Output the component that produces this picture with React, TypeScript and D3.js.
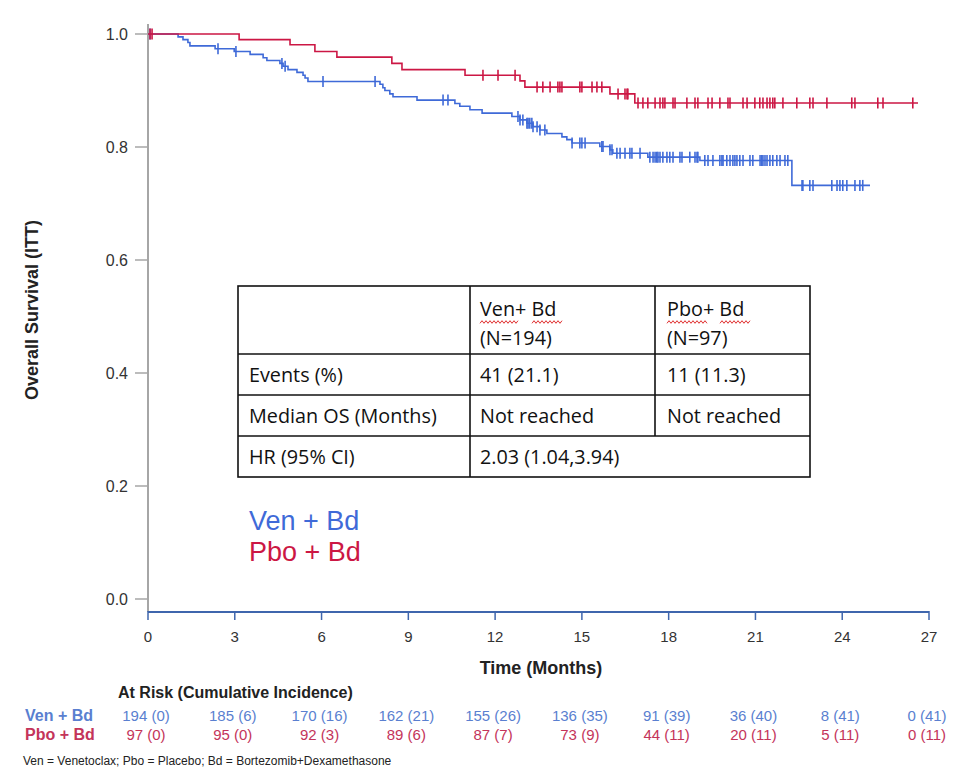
import React from "react";
import * as d3 from "d3";

// ---------- DATA ----------
const xTicks = [0, 3, 6, 9, 12, 15, 18, 21, 24, 27];
const yTicks = [0, 0.2, 0.4, 0.6, 0.8, 1.0];

// Ven + Bd: event times (months) and survival after each event
const venEventTimes = [1.04, 1.21, 1.38, 1.45, 2.32, 2.98, 3.53, 3.98, 4.11, 4.56, 4.67, 4.84, 5.15, 5.36, 5.43, 5.53,
  8.02, 8.12, 8.19, 8.36, 8.47, 9.3, 10.61, 10.78, 11.13, 11.55, 12.58, 12.86, 13.1, 13.31, 13.55, 13.79, 14.31, 14.48,
  14.66, 15.62, 15.97, 16.07, 17.28, 19.08, 22.26];
const venSurvival = [0.995, 0.99, 0.985, 0.979, 0.974, 0.969, 0.964, 0.958, 0.953, 0.948, 0.943, 0.937, 0.932, 0.927,
  0.922, 0.916, 0.911, 0.905, 0.9, 0.894, 0.889, 0.883, 0.877, 0.872, 0.866, 0.86, 0.854, 0.848, 0.842, 0.836, 0.83,
  0.824, 0.818, 0.813, 0.807, 0.801, 0.795, 0.789, 0.782, 0.776, 0.732];
const venCensor = [0.07, 2.42, 3.04, 4.63, 4.74, 6.05, 7.85, 10.2, 10.37, 12.79, 12.86, 12.96, 13.1, 13.14, 13.2, 13.27,
  13.31, 13.45, 13.55, 13.72, 14.66, 14.93, 15.0, 15.11, 15.69, 15.73, 15.97, 16.04, 16.21, 16.32, 16.49, 16.66, 16.73,
  17.01, 17.35, 17.46, 17.53, 17.59, 17.63, 17.7, 17.8, 17.94, 18.04, 18.15, 18.39, 18.46, 18.73, 18.91, 18.98, 19.01,
  19.25, 19.36, 19.53, 19.77, 19.84, 19.88, 20.01, 20.12, 20.22, 20.29, 20.36, 20.46, 20.57, 20.81, 20.91, 21.16, 21.22,
  21.26, 21.33, 21.4, 21.5, 21.6, 21.74, 21.85, 22.02, 22.12, 22.61, 22.64, 22.88, 22.99, 23.64, 23.82, 23.92, 24.02,
  24.16, 24.44, 24.61, 24.71];
const venEnd = 24.96;

// Pbo + Bd
const pboEventTimes = [3.15, 4.91, 5.77, 6.53, 8.43, 8.78, 10.96, 12.86, 13.03, 15.97, 16.83];
const pboSurvival = [0.99, 0.981, 0.969, 0.959, 0.948, 0.937, 0.927, 0.917, 0.906, 0.894, 0.878];
const pboCensor = [0.07, 0.14, 11.58, 12.1, 12.69, 13.45, 13.65, 13.9, 14.17, 14.24, 14.31, 14.93, 15.0, 15.35, 15.52,
  15.69, 16.25, 16.49, 16.56, 16.59, 16.94, 17.11, 17.28, 17.53, 17.7, 17.8, 17.87, 18.15, 18.22, 18.63, 18.91, 19.01,
  19.36, 19.5, 19.77, 20.05, 20.12, 20.57, 20.71, 20.98, 21.15, 21.26, 21.4, 21.5, 21.6, 21.67, 21.95, 22.43, 22.88,
  22.99, 23.47, 24.33, 24.44, 25.23, 25.41, 26.44];
const pboEnd = 26.62;

// At-risk table
const venAtRisk = [194, 185, 170, 162, 155, 136, 91, 36, 8, 0];
const venCumInc = [0, 6, 16, 21, 26, 35, 39, 40, 41, 41];
const pboAtRisk = [97, 95, 92, 89, 87, 73, 44, 20, 5, 0];
const pboCumInc = [0, 0, 3, 6, 7, 9, 11, 11, 11, 11];

// Inset table
const tableHeader = ["", "Ven+ Bd|(N=194)", "Pbo+ Bd|(N=97)"];
const tableRowLabels = ["Events (%)", "Median OS (Months)", "HR (95% CI)"];
const tableVen = ["41 (21.1)", "Not reached", "2.03 (1.04,3.94)"];
const tablePbo = ["11 (11.3)", "Not reached", ""];

// ---------- STYLE ----------
const BLUE = "#3f6ad8";
const RED = "#cc1744";
const BLUE_TXT = "#5a7fd0";
const RED_TXT = "#c4345a";

const x = d3.scaleLinear().domain([0, 27]).range([148, 929]);
const y = d3.scaleLinear().domain([0, 1]).range([599, 34]);
const AXIS_Y = 612;

function survAt(times: number[], surv: number[], t: number) {
  let s = 1;
  for (let i = 0; i < times.length; i++) if (times[i] <= t) s = surv[i];
  return s;
}

function stepPath(times: number[], surv: number[], end: number) {
  const pts: [number, number][] = [[0, 1]];
  times.forEach((t, i) => pts.push([t, surv[i]]));
  pts.push([end, surv[surv.length - 1]]);
  return d3.line<[number, number]>().x(d => x(d[0])).y(d => y(d[1])).curve(d3.curveStepAfter)(pts) || "";
}

function squiggle(x0: number, x1: number, yy: number) {
  const pts: [number, number][] = [];
  let up = false;
  for (let xx = x0; xx <= x1; xx += 2) {
    pts.push([xx, up ? yy - 1.3 : yy + 1.3]);
    up = !up;
  }
  return d3.line()(pts) || "";
}

export default function App() {
  const tl = 238, tr = 810, c1 = 470, c2 = 655;
  const rows = [286, 354, 395, 436, 477];
  const tFont = "'Open Sans', 'Noto Sans', sans-serif";
  const p1 = c1 + 10, p2 = c2 + 12;
  return (
    <svg width={975} height={784} style={{ position: "absolute", left: 0, top: 0, background: "#fff" }}
      fontFamily="'Liberation Sans', Arial, sans-serif">
      {/* y axis */}
      <line x1={148} x2={148} y1={24} y2={AXIS_Y} stroke="#a6a6a6" strokeWidth={2} />
      {yTicks.map(v => (
        <g key={v}>
          <line x1={135} x2={148} y1={y(v)} y2={y(v)} stroke="#a6a6a6" strokeWidth={1.5} />
          <text x={128} y={y(v)} dy="0.35em" textAnchor="end" fontSize={16} fill="#333">{v.toFixed(1)}</text>
        </g>
      ))}
      <text transform={`translate(38,${310}) rotate(-90)`} textAnchor="middle" fontSize={18} fontWeight="bold" fill="#222">
        Overall Survival (ITT)
      </text>

      {/* x axis */}
      <line x1={x(0)} x2={x(27)} y1={AXIS_Y} y2={AXIS_Y} stroke="#3f66ad" strokeWidth={2} />
      {xTicks.map(v => (
        <g key={v}>
          <line x1={x(v)} x2={x(v)} y1={AXIS_Y - 1} y2={AXIS_Y + 8} stroke="#3f66ad" strokeWidth={1.5} />
          <text x={x(v)} y={642} textAnchor="middle" fontSize={15} fill="#333">{v}</text>
        </g>
      ))}
      <text x={541} y={674} textAnchor="middle" fontSize={18} fontWeight="bold" fill="#222">Time (Months)</text>

      {/* curves */}
      <path d={stepPath(venEventTimes, venSurvival, venEnd)} fill="none" stroke={BLUE} strokeWidth={1.6} />
      {venCensor.map((t, i) => {
        const yy = y(survAt(venEventTimes, venSurvival, t));
        return <line key={"vc" + i} x1={x(t)} x2={x(t)} y1={yy - 5.5} y2={yy + 5.5} stroke={BLUE} strokeWidth={1.6} />;
      })}
      <path d={stepPath(pboEventTimes, pboSurvival, pboEnd)} fill="none" stroke={RED} strokeWidth={1.6} />
      {pboCensor.map((t, i) => {
        const yy = y(survAt(pboEventTimes, pboSurvival, t));
        return <line key={"pc" + i} x1={x(t)} x2={x(t)} y1={yy - 5.5} y2={yy + 5.5} stroke={RED} strokeWidth={1.6} />;
      })}

      {/* inset table */}
      <g fontFamily={tFont} fontSize={19.8} fill="#111">
        <rect x={tl} y={rows[0]} width={tr - tl} height={rows[4] - rows[0]} fill="#fff" stroke="#111" strokeWidth={1.6} />
        {rows.slice(1, 4).map(r => <line key={r} x1={tl} x2={tr} y1={r} y2={r} stroke="#111" strokeWidth={1.6} />)}
        <line x1={c1} x2={c1} y1={rows[0]} y2={rows[4]} stroke="#111" strokeWidth={1.6} />
        <line x1={c2} x2={c2} y1={rows[0]} y2={rows[3]} stroke="#111" strokeWidth={1.6} />
        {tableHeader.map((h, i) => {
          if (!h) return null;
          const [a, b] = h.split("|");
          const cx = i === 1 ? p1 : p2;
          return (
            <g key={h}>
              <text x={cx} y={316}>{a}</text>
              <text x={cx} y={345}>{b}</text>
            </g>
          );
        })}
        <path d={squiggle(p1, p1 + 38, 322)} fill="none" stroke="#e03030" strokeWidth={1} />
        <path d={squiggle(p1 + 52, p1 + 82, 322)} fill="none" stroke="#e03030" strokeWidth={1} />
        <path d={squiggle(p2, p2 + 40, 322)} fill="none" stroke="#e03030" strokeWidth={1} />
        <path d={squiggle(p2 + 53, p2 + 83, 322)} fill="none" stroke="#e03030" strokeWidth={1} />
        {tableRowLabels.map((lab, i) => {
          const yy = (rows[i + 1] + rows[i + 2]) / 2 + 7;
          return (
            <g key={lab}>
              <text x={tl + 11} y={yy}>{lab}</text>
              <text x={p1} y={yy}>{tableVen[i]}</text>
              {tablePbo[i] && <text x={p2} y={yy}>{tablePbo[i]}</text>}
            </g>
          );
        })}
      </g>

      {/* legend */}
      <text x={249} y={530} fontSize={27} fill={BLUE}>Ven + Bd</text>
      <text x={249} y={561} fontSize={27} fill={RED}>Pbo + Bd</text>

      {/* at risk */}
      <text x={118} y={698} fontSize={16} fontWeight="bold" fill="#222">At Risk (Cumulative Incidence)</text>
      <text x={25} y={721} fontSize={16} fontWeight="bold" fill={BLUE_TXT}>Ven + Bd</text>
      <text x={25} y={740} fontSize={16} fontWeight="bold" fill={RED_TXT}>Pbo + Bd</text>
      {xTicks.map((t, i) => (
        <g key={"ar" + t} fontSize={15} textAnchor="middle">
          <text x={x(t) - 2} y={721} fill={BLUE_TXT}>{`${venAtRisk[i]} (${venCumInc[i]})`}</text>
          <text x={x(t) - 2} y={740} fill={RED_TXT}>{`${pboAtRisk[i]} (${pboCumInc[i]})`}</text>
        </g>
      ))}
      <text x={23} y={765} fontSize={12} fill="#222">Ven = Venetoclax; Pbo = Placebo; Bd = Bortezomib+Dexamethasone</text>
    </svg>
  );
}
